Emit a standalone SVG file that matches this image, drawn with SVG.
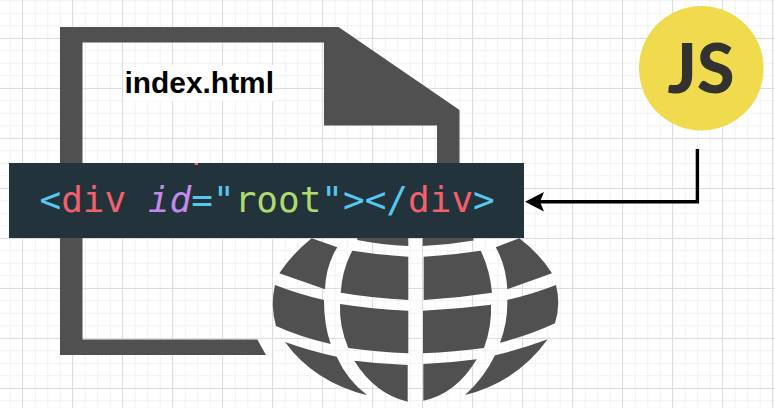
<svg xmlns="http://www.w3.org/2000/svg" width="775" height="408" viewBox="0 0 775 408">
<style>
.shape{fill:#505050}
.c{fill:#56c8f0}.r{fill:#f2606c}.p{fill:#c58ae8;font-style:italic}.g{fill:#aedb6c}
.code{font-family:"DejaVu Sans Mono","Liberation Mono",monospace;font-size:36px}
</style>
<defs>
<pattern id="minor" width="12.5" height="12.5" patternUnits="userSpaceOnUse" x="4" y="7"><path d="M0 6.25H12.5M6.25 0V12.5" fill="none" stroke="#f2f2f2" stroke-width="1"/></pattern>
<pattern id="major" width="50" height="50" patternUnits="userSpaceOnUse" x="22" y="38"><path d="M0 .5H50M.5 0V50" fill="none" stroke="#dcdcdc" stroke-width="1"/></pattern>
<marker id="arrow" markerUnits="userSpaceOnUse" markerWidth="20" markerHeight="20" refX="14" refY="10" orient="auto"><path d="M19 10L0 .3L4 10L0 19.7Z" fill="#000"/></marker>
</defs>
<rect width="775" height="408" fill="#fff"/>
<rect width="775" height="408" fill="url(#minor)"/>
<rect width="775" height="408" fill="url(#major)"/>
<g id="file">
<path class="shape" fill-rule="evenodd" d="M60 27H338.5L459.5 110V240H437V125.5H324V42.5H82.5V339.5H257.3L266 355H60Z"/>
<rect x="123.5" y="65" width="150" height="36" fill="#fff"/>
<text x="124.5" y="92.7" font-family="Liberation Sans,Arial,sans-serif" font-weight="700" font-size="29.9" fill="#000">index.html</text>
</g>
<g id="globe" class="shape">
<path d="M311.7 238.3L337.3 247.3Q326 265 325 289.3L279.3 273.3Q292 254 311.7 238.3Z"/>
<path d="M352.3 250.7Q380 255 408.3 256.7V300Q372 298 340.7 292.7Q342 270 352.3 250.7Z"/>
<path d="M423.7 256.7Q452 255 480.7 250.7Q490 270 492 292.7Q458 298 423.7 300Z"/>
<path d="M495.7 247.3L519.3 238.3Q540 254 552 273.3L507.3 289.3Q506 265 495.7 247.3Z"/>
<path d="M275 285Q298 294 324 300Q324 325 330.7 344Q300 337 276 326Q270 305 275 285Z"/>
<path d="M340 304Q372 309 408.3 310.7V353.3Q376 352 348.3 348Q339 326 340 304Z"/>
<path d="M423 310.7Q458 309 491 304.7Q492 326 484 348Q455 352 423 353.3Z"/>
<path d="M507.3 300Q533 294 556 285Q561 305 555 323.3Q530 335 500 342.7Q508 322 507.3 300Z"/>
<path d="M285 342Q310 351 336.7 356.7Q347 380 367.3 395.3Q314 382 285 342Z"/>
<path d="M354.3 360.7Q380 364 407.7 365V401.7Q375 394 354.3 360.7Z"/>
<path d="M423.3 364Q450 363 476.7 359.3Q456 394 423.3 400.7Z"/>
<path d="M495 355.3Q522 349 547.7 339.3Q517 382 465 395Q484 378 495 355.3Z"/>
<path d="M357.3 238H408.3V246Q382 245 357.3 240Z"/>
<path d="M422.7 238H473.5V240.5Q448 245 422.7 246Z"/>
</g>
<g id="code-bar">
<rect x="9" y="163" width="515" height="75" fill="#22333b"/>
<rect x="194.5" y="163" width="3.5" height="2" fill="#f2606c"/>
<text class="code" x="39.5" y="211.5" xml:space="preserve"><tspan class="c">&lt;</tspan><tspan class="r">div</tspan> <tspan class="p">id</tspan><tspan class="c">="</tspan><tspan class="g">root</tspan><tspan class="c">"&gt;&lt;/</tspan><tspan class="r">div</tspan><tspan class="c">&gt;</tspan></text>
</g>
<g id="js">
<circle cx="701.3" cy="68.3" r="62.3" fill="#f0da4e"/>
<text x="701" y="92.7" text-anchor="middle" font-family="Lato,sans-serif" font-weight="900" font-size="68" fill="#323330">JS</text>
</g>
<g id="connectors">
<path d="M697.4 149V201.7H530" fill="none" stroke="#000" stroke-width="3.4" marker-end="url(#arrow)"/>
</g>
</svg>
